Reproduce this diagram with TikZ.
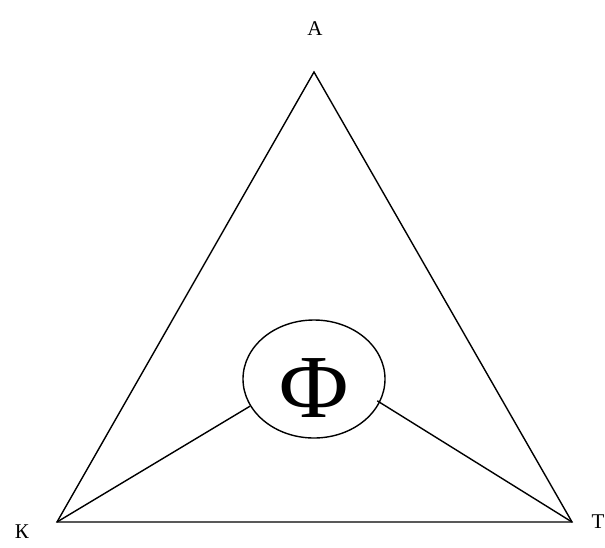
\documentclass[tikz,border=0pt]{standalone}
\usepackage{fontspec}
\setmainfont{Liberation Serif}
\usetikzlibrary{shapes.geometric}

\begin{document}
\begin{tikzpicture}[x=1pt,y=-1pt,
    vertex/.style={inner sep=0pt,font=\fontsize{21}{21}\selectfont},
    edge/.style={line width=1.4pt}]
  \useasboundingbox (0,0) rectangle (605,547);
  \coordinate (a) at (314,72);
  \coordinate (k) at (57,522);
  \coordinate (t) at (572,522);
  \node[vertex] (alab) at (315,29) {А};
  \node[vertex] (klab) at (22,532) {К};
  \node[vertex] (tlab) at (598,522) {Т};
  \draw[edge] (a) -- (k) -- (t) -- cycle;
  \node[ellipse,draw,edge,inner sep=0pt,minimum width=142pt,minimum height=118pt] (f) at (314,379) {};
  \node[inner sep=0pt,font=\fontsize{90}{90}\selectfont] (flab) at (314,388) {Ф};
  \draw[edge] (k) -- (f.203);
  \draw[edge] (t) -- ([shift={(-3,-1)}]f.341);
\end{tikzpicture}
\end{document}
